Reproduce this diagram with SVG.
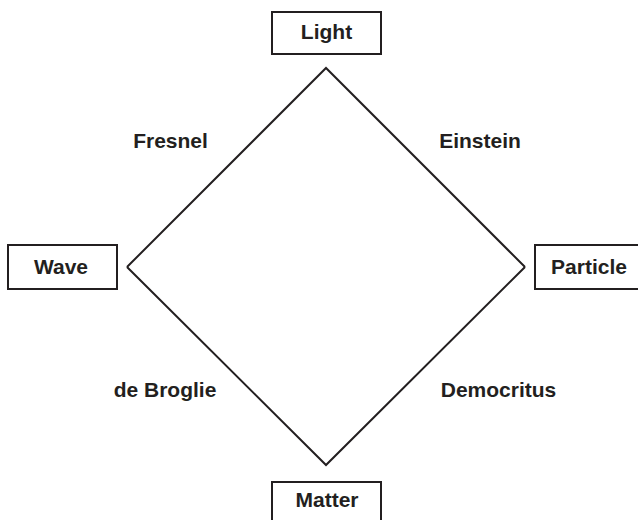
<svg xmlns="http://www.w3.org/2000/svg" width="638" height="520" viewBox="0 0 638 520">
<style>
.box{fill:#fff;stroke:#231f20;stroke-width:2}
.t{font-family:"Liberation Sans",Arial,sans-serif;font-weight:bold;font-size:21px;fill:#231f20;text-anchor:middle}
.edge{fill:none;stroke:#231f20;stroke-width:2;stroke-linejoin:miter}
</style>
<rect width="638" height="520" fill="#fff"/>
<g id="connectors">
<polyline class="edge" points="127,267 326,68 525,267"/>
<polyline class="edge" points="127,267 326,465 525,267"/>
</g>
<g id="labels">
<text class="t" x="170.5" y="148">Fresnel</text>
<text class="t" x="480" y="148">Einstein</text>
<text class="t" x="165" y="397">de Broglie</text>
<text class="t" x="498.5" y="397">Democritus</text>
</g>
<g id="light"><rect class="box" x="272" y="12" width="109" height="42"/><text class="t" x="326.5" y="39">Light</text></g>
<g id="wave"><rect class="box" x="8" y="245" width="109" height="44"/><text class="t" x="61" y="274">Wave</text></g>
<g id="particle"><rect class="box" x="535" y="245" width="110" height="44"/><text class="t" x="589" y="274">Particle</text></g>
<g id="matter"><rect class="box" x="272" y="482" width="109" height="50"/><text class="t" x="327" y="507">Matter</text></g>
</svg>
